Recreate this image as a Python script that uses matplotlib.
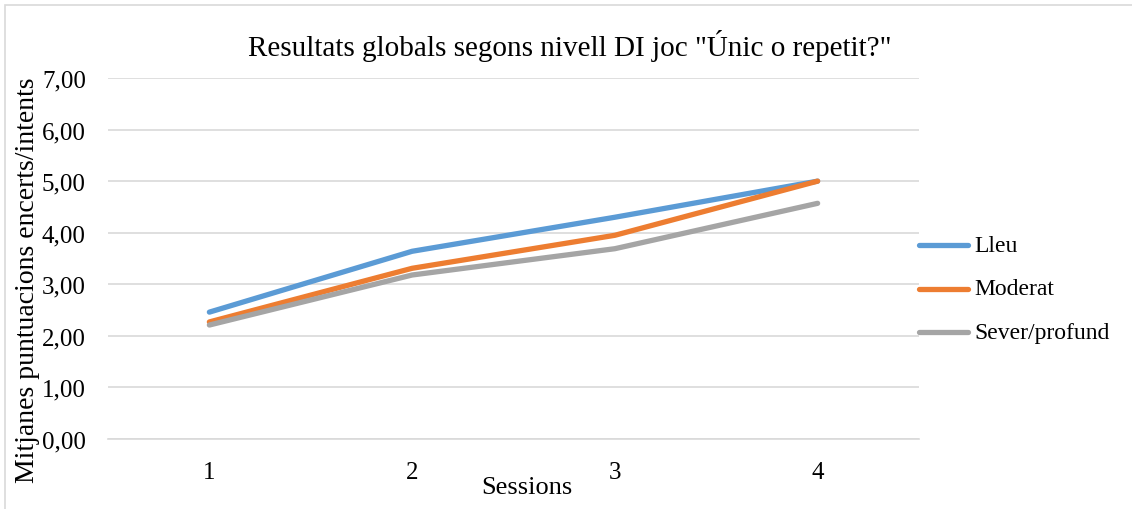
import matplotlib
matplotlib.use("Agg")
import matplotlib.pyplot as plt
from matplotlib.patches import Rectangle
from matplotlib.lines import Line2D

sessions = ["1", "2", "3", "4"]
lleu = [2.46, 3.64, 4.30, 5.00]
moderat = [2.27, 3.31, 3.95, 5.00]
sever = [2.21, 3.18, 3.69, 4.57]

series_names = ["Lleu", "Moderat", "Sever/profund"]
colors = ["#5B9BD5", "#ED7D31", "#A5A5A5"]

plt.rcParams["font.family"] = ["Liberation Serif", "DejaVu Serif"]

W, H = 1132, 510
fig = plt.figure(figsize=(W / 100, H / 100), dpi=100)
ax = fig.add_axes([108 / W, 1 - 440 / H, (919 - 108) / W, (440 - 79) / H])

# outer chart border
fig.patches.append(Rectangle((5 / W, -0.1), 1.2, 1 - 6 / H + 0.1,
                             transform=fig.transFigure, fill=False,
                             edgecolor="#D9D9D9", linewidth=1.2))

x = range(1, len(sessions) + 1)
for vals, name, c in zip([lleu, moderat, sever], series_names, colors):
    ax.plot(x, vals, color=c, linewidth=3.8, solid_capstyle="round",
            solid_joinstyle="round", label=name)

ax.set_xlim(0.5, 4.5)
ax.set_ylim(0, 7)
ax.set_yticks(range(0, 8))
ax.set_yticklabels([f"{v:.2f}".replace(".", ",") for v in range(0, 8)])
ax.set_xticks(list(x))
ax.set_xticklabels(sessions)
ax.grid(axis="y", color="#D9D9D9", linewidth=1.2)
ax.set_axisbelow(True)
for s in ["top", "right", "left"]:
    ax.spines[s].set_visible(False)
ax.spines["bottom"].set_color("#D9D9D9")
ax.spines["bottom"].set_linewidth(1.2)
ax.tick_params(length=0, labelsize=18)
ax.tick_params(axis="x", pad=16)
ax.tick_params(axis="y", pad=16)

fig.text(570 / W, 1 - 46 / H, 'Resultats globals segons nivell DI joc "Únic o repetit?"',
         ha="center", va="center", fontsize=21)
fig.text(527 / W, 1 - 488 / H, "Sessions", ha="center", va="center", fontsize=19)
fig.text(28 / W, 1 - 280 / H, "Mitjanes puntuacions encerts/intents",
         ha="center", va="center", rotation=90, fontsize=20)

# legend drawn by hand at the reference rows
leg_y = [246, 290, 333]
for name, c, yy in zip(series_names, colors, leg_y):
    fy = 1 - yy / H
    fig.add_artist(Line2D([919 / W, 968 / W], [fy, fy], color=c, linewidth=3.8,
                          solid_capstyle="round", transform=fig.transFigure))
    fig.text(974 / W, fy, name, ha="left", va="center", fontsize=17)

fig.savefig("out.png", dpi=100)
